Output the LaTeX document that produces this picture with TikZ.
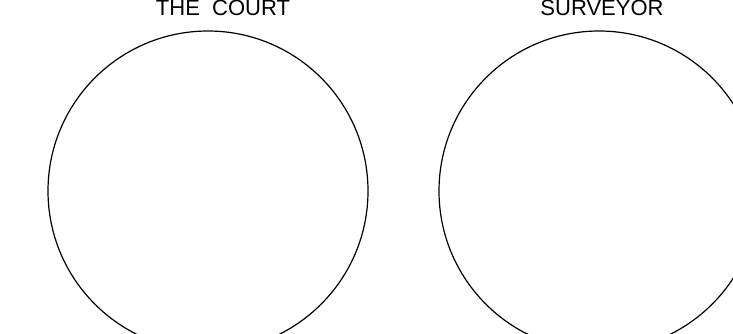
\documentclass[tikz,border=0pt]{standalone}
\usepackage{fontspec}
\setmainfont{Liberation Sans}
\begin{document}
\begin{tikzpicture}[x=1pt,y=-1pt,
    party/.style={circle,draw,line width=1.2pt,minimum size=320pt,inner sep=0pt},
    title/.style={anchor=base,inner sep=0pt,font=\fontsize{22}{24}\selectfont}]
  \useasboundingbox (0,0) rectangle (733,333);
  \clip (0,0) rectangle (733,333);
  \node[party] (court) at (208,191) {};
  \node[party] (surveyor) at (599,191) {};
  \node[title] (courtname) at (223,15) {THE\ \ COURT};
  \node[title] (surveyorname) at (602,15) {SURVEYOR};
\end{tikzpicture}
\end{document}
